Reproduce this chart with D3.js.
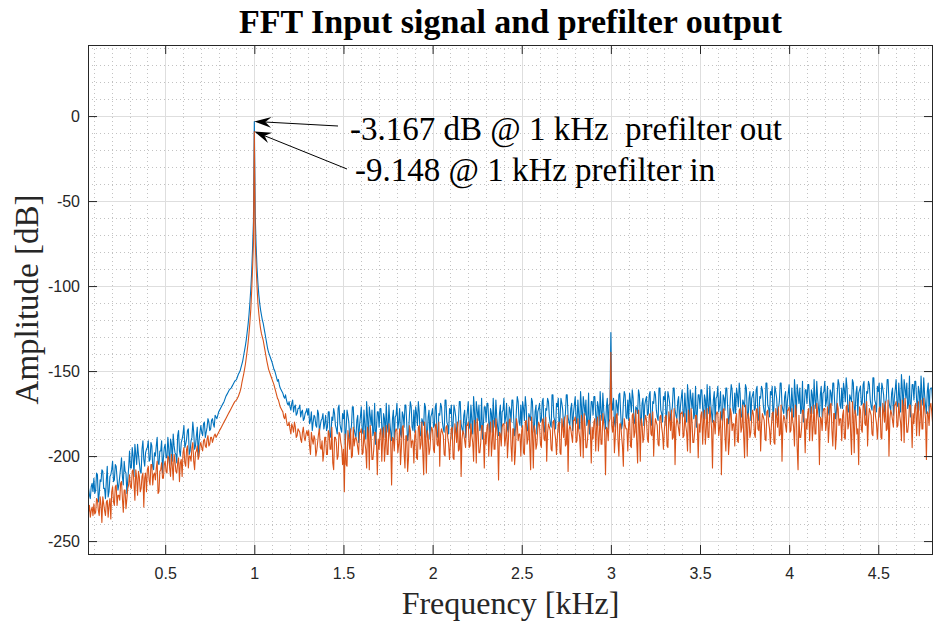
<!DOCTYPE html>
<html>
<head>
<meta charset="utf-8">
<script src="https://cdn.jsdelivr.net/npm/d3@7"></script>
<style>
  body { margin: 0; background: #fff; }
  svg { display: block; }
</style>
</head>
<body>
<svg id="chart" width="934" height="627"></svg>
<script>
// FFT bins: first bin centre and bin spacing, in kHz
const binStart = 0.07;
const binWidth = 0.005;

// Prefilter output spectrum [dB], one value per bin from 0.070 to 4.805 kHz
const outputDb = [
  -219, -223, -225, -218, -216, -221,
  -213, -222, -220, -210, -211, -227, -222, -214, -215, -208, -209, -219, -219, -225, -214, -206, -224, -221, -212, -211,
  -208, -203, -215, -214, -205, -206, -213, -220, -217, -212, -207, -201, -212, -217, -203, -209, -210, -222, -214, -207,
  -197, -207, -207, -195, -200, -212, -193, -199, -205, -193, -199, -204, -209, -210, -196, -191, -202, -206, -198, -196,
  -195, -191, -203, -202, -192, -194, -206, -208, -198, -200, -194, -189, -204, -205, -197, -197, -191, -210, -201, -195,
  -193, -201, -201, -189, -196, -206, -190, -193, -203, -187, -194, -198, -199, -204, -188, -185, -197, -200, -192, -190,
  -187, -182, -195, -193, -190, -185, -184, -199, -197, -191, -189, -180, -186, -196, -194, -188, -183, -200, -191, -186,
  -182, -186, -188, -181, -180, -189, -186, -183, -178, -180, -185, -184, -179, -178, -181, -183, -176, -177, -178, -176,
  -174, -173, -172, -171, -170, -169, -168, -166.5, -165, -164, -163, -162, -161, -160.5, -160, -159, -158, -157, -156, -155.5,
  -155, -153.5, -152, -151, -150, -148, -146, -144, -141, -138, -135, -131.5, -127, -122.5, -117, -110, -102, -92, -78, -62,
  -3.167, -58, -76, -89, -98, -105, -110, -114, -117, -120, -122, -125, -128, -131, -134, -137, -139, -140.5, -142, -143.5,
  -145, -147, -149, -150, -152, -154, -156, -155, -158, -160, -161, -162, -163, -165, -166, -164, -167, -169, -170, -168,
  -171, -173, -169, -167, -174, -171, -170, -176, -175, -172, -172, -170, -177, -174, -173, -179, -178, -175, -174, -172,
  -176, -172, -181, -179, -174, -185, -180, -176, -177, -182, -183, -173, -175, -186, -182, -179, -178, -175, -184, -181,
  -176, -185, -183, -174, -174, -189, -188, -177, -179, -172, -175, -182, -184, -187, -172, -170, -181, -184, -186, -175,
  -178, -173, -193, -184, -173, -176, -180, -190, -186, -182, -171, -171, -184, -187, -189, -179, -176, -192, -182, -177,
  -171, -185, -187, -173, -182, -190, -168, -177, -190, -171, -176, -182, -173, -188, -185, -169, -193, -184, -174, -174,
  -183, -172, -172, -183, -189, -175, -178, -189, -169, -181, -186, -170, -180, -186, -191, -178, -173, -191, -177, -176,
  -169, -184, -180, -172, -187, -189, -174, -176, -183, -170, -170, -181, -191, -187, -176, -168, -171, -183, -185, -173,
  -186, -171, -175, -182, -168, -174, -188, -188, -178, -180, -182, -169, -171, -185, -189, -177, -173, -190, -177, -175,
  -172, -183, -182, -171, -169, -188, -189, -175, -176, -169, -171, -180, -184, -186, -167, -167, -180, -182, -187, -172,
  -175, -170, -190, -181, -170, -173, -177, -187, -183, -179, -168, -168, -181, -184, -186, -176, -173, -189, -179, -174,
  -168, -182, -184, -170, -179, -187, -165, -174, -187, -168, -173, -179, -170, -185, -182, -166, -190, -181, -171, -171,
  -180, -169, -169, -180, -186, -172, -175, -186, -166, -178, -183, -167, -177, -183, -188, -175, -170, -188, -174, -173,
  -166, -181, -177, -169, -184, -186, -171, -173, -180, -167, -167, -178, -188, -184, -173, -165, -168, -180, -182, -170,
  -183, -168, -172, -179, -165, -171, -185, -185, -175, -177, -179, -166, -168, -182, -186, -174, -170, -187, -174, -172,
  -169, -180, -179, -168, -166, -185, -186, -172, -173, -166, -168, -177, -181, -183, -164, -164, -177, -179, -184, -169,
  -171, -166, -186, -177, -166, -169, -173, -183, -179, -175, -164, -164, -177, -180, -182, -172, -169, -185, -175, -170,
  -165, -179, -181, -167, -176, -184, -162, -171, -184, -165, -170, -176, -167, -182, -179, -163, -187, -178, -168, -168,
  -176, -165, -165, -176, -182, -168, -171, -182, -162, -174, -179, -163, -173, -179, -184, -171, -166, -184, -170, -169,
  -127.3, -168, -173, -166, -180, -183, -167, -170, -176, -164, -163, -175, -184, -181, -169, -162, -164, -177, -178, -167,
  -179, -163, -168, -174, -161, -166, -181, -180, -171, -172, -175, -161, -164, -177, -182, -169, -166, -182, -170, -167,
  -165, -176, -175, -164, -162, -181, -182, -168, -169, -162, -164, -173, -177, -179, -160, -160, -173, -175, -180, -165,
  -167, -162, -182, -173, -162, -165, -169, -179, -175, -171, -160, -160, -173, -176, -178, -168, -165, -181, -171, -166,
  -161, -175, -177, -163, -172, -180, -158, -167, -180, -161, -166, -172, -163, -178, -175, -159, -183, -174, -164, -164,
  -172, -161, -161, -172, -178, -164, -167, -178, -158, -170, -175, -159, -169, -175, -180, -167, -162, -180, -166, -165,
  -159, -174, -170, -162, -177, -179, -164, -166, -173, -160, -160, -171, -181, -177, -166, -158, -161, -173, -175, -163,
  -175, -160, -164, -171, -157, -163, -177, -177, -167, -169, -171, -158, -160, -174, -178, -166, -162, -179, -166, -164,
  -162, -173, -172, -161, -159, -178, -179, -165, -166, -159, -161, -170, -174, -176, -157, -157, -170, -172, -177, -162,
  -164, -159, -179, -170, -159, -162, -166, -176, -172, -168, -157, -157, -170, -173, -175, -165, -162, -178, -168, -163,
  -158, -172, -174, -160, -169, -177, -155, -164, -177, -158, -163, -169, -160, -175, -172, -156, -180, -171, -161, -161,
  -169, -158, -158, -169, -175, -161, -164, -175, -155, -167, -172, -156, -166, -172, -177, -164, -159, -177, -163, -162,
  -156, -171, -167, -159, -174, -176, -161, -163, -170, -157, -157, -168, -178, -174, -163, -155, -158, -170, -172, -160,
  -172, -157, -161, -168, -154, -160, -174, -174, -164, -166, -168, -155, -157, -171, -175, -163, -159, -176, -163, -161,
  -159, -170, -169, -158, -156, -175, -176, -162, -163, -156, -158, -167, -171, -173, -154, -154, -167, -169, -174, -159,
  -162, -157, -177, -168, -157, -160, -164, -174, -170, -166, -155, -155, -168, -171, -173, -163, -160, -176, -166, -161,
  -155, -169, -171, -157, -166, -174, -152, -161, -174, -155, -160, -166, -157, -172, -169, -153, -177, -168, -158, -158,
  -167, -156, -156, -167, -173, -159, -162, -173, -153, -165, -170, -154, -164, -170, -175, -162, -157, -175, -161, -160,
  -160, -168
];

// Prefilter input spectrum [dB], same bins
const inputDb = [
  -233, -229, -236, -232, -230, -235,
  -228, -234, -233, -225, -226, -232, -235, -224, -229, -239, -224, -228, -232, -235, -227, -226, -236, -229, -225, -237,
  -221, -218, -227, -229, -218, -217, -229, -223, -223, -226, -216, -215, -225, -233, -220, -220, -231, -225, -219, -217,
  -211, -218, -219, -209, -208, -216, -226, -208, -213, -223, -209, -212, -221, -219, -212, -210, -230, -213, -210, -221,
  -208, -206, -214, -217, -205, -205, -217, -211, -210, -214, -207, -203, -222, -221, -209, -208, -204, -213, -213, -205,
  -203, -209, -210, -200, -201, -207, -212, -199, -206, -214, -199, -203, -209, -210, -204, -201, -215, -204, -202, -212,
  -198, -195, -204, -206, -196, -194, -207, -200, -200, -203, -195, -192, -203, -208, -198, -197, -194, -202, -200, -194,
  -192, -195, -197, -191, -190, -194, -195, -190, -188, -194, -193, -189, -189, -192, -190, -188, -187, -189, -188, -187,
  -186, -185, -184, -183, -182, -181, -180, -179, -178, -177, -176, -175, -174, -173, -172, -171, -170, -169, -168, -167.5,
  -167, -166, -165, -163.5, -162, -160, -157, -154.5, -152, -149, -146, -142, -138, -133.5, -128, -121.5, -114, -103, -90, -75,
  -9.148, -72, -88, -100, -110, -116, -121, -125, -128, -130, -132, -135, -138, -141, -144, -146.5, -149, -150.5, -152, -153.5,
  -155, -156.5, -158, -160, -162, -164, -166, -167, -169, -171, -172, -173, -174, -177, -178, -175, -179, -182, -182, -180,
  -184, -187, -181, -183, -186, -180, -183, -189, -188, -184, -185, -186, -190, -192, -186, -183, -189, -191, -187, -185,
  -188, -185, -194, -199, -186, -190, -193, -188, -190, -200, -197, -192, -187, -184, -195, -196, -191, -203, -198, -189,
  -189, -199, -199, -185, -187, -196, -196, -183, -204, -208, -189, -189, -192, -202, -200, -186, -187, -192, -195, -205,
  -196, -221, -187, -205, -206, -185, -190, -196, -184, -201, -200, -183, -194, -190, -189, -191, -195, -199, -186, -186,
  -184, -199, -198, -185, -192, -196, -207, -183, -187, -208, -182, -189, -202, -202, -196, -186, -186, -192, -211, -190,
  -196, -186, -184, -203, -189, -183, -203, -194, -182, -199, -199, -181, -187, -192, -217, -189, -190, -197, -186, -184,
  -185, -198, -193, -184, -205, -195, -183, -182, -198, -207, -188, -188, -209, -201, -182, -185, -195, -191, -191, -204,
  -188, -185, -201, -202, -183, -182, -196, -193, -180, -198, -211, -180, -189, -210, -185, -188, -199, -196, -187, -183,
  -185, -196, -198, -182, -181, -193, -194, -180, -206, -187, -184, -186, -188, -199, -200, -183, -182, -189, -193, -202,
  -192, -184, -183, -201, -202, -181, -186, -192, -180, -197, -196, -179, -212, -190, -185, -187, -191, -195, -182, -182,
  -180, -195, -194, -181, -188, -192, -203, -179, -183, -204, -178, -185, -198, -198, -192, -182, -182, -188, -207, -186,
  -193, -183, -181, -200, -186, -180, -200, -191, -179, -196, -196, -178, -184, -190, -214, -186, -187, -194, -183, -181,
  -181, -194, -189, -180, -201, -191, -179, -178, -194, -203, -184, -184, -205, -197, -178, -181, -191, -187, -187, -200,
  -185, -182, -198, -199, -180, -179, -193, -190, -177, -195, -208, -177, -186, -207, -182, -185, -196, -193, -184, -180,
  -182, -193, -195, -179, -178, -190, -191, -177, -203, -186, -181, -183, -185, -196, -197, -180, -179, -186, -190, -199,
  -189, -181, -180, -198, -199, -178, -183, -189, -177, -194, -193, -176, -209, -185, -182, -184, -188, -192, -179, -179,
  -177, -192, -191, -178, -185, -189, -200, -176, -180, -201, -175, -182, -195, -195, -189, -179, -179, -185, -204, -183,
  -190, -180, -178, -197, -183, -177, -197, -188, -176, -193, -193, -175, -181, -186, -211, -183, -184, -191, -180, -178,
  -139, -182, -186, -177, -198, -188, -176, -175, -191, -200, -181, -181, -188, -194, -206, -178, -182, -184, -184, -197,
  -181, -178, -194, -195, -176, -175, -189, -186, -173, -191, -204, -173, -182, -203, -178, -181, -192, -189, -180, -176,
  -179, -190, -192, -176, -175, -187, -188, -174, -200, -185, -178, -180, -182, -193, -194, -177, -176, -183, -187, -196,
  -185, -177, -176, -194, -195, -174, -179, -185, -173, -190, -189, -172, -205, -183, -178, -180, -184, -188, -175, -175,
  -174, -189, -188, -175, -182, -186, -197, -173, -177, -198, -172, -179, -192, -192, -186, -176, -176, -182, -201, -181,
  -186, -176, -174, -193, -179, -173, -193, -184, -172, -189, -189, -171, -177, -184, -207, -179, -180, -187, -176, -174,
  -175, -188, -183, -174, -211, -185, -173, -172, -188, -197, -178, -178, -199, -191, -172, -175, -185, -181, -181, -194,
  -178, -175, -191, -192, -173, -172, -186, -183, -170, -188, -201, -170, -179, -200, -175, -178, -189, -186, -177, -173,
  -176, -187, -189, -173, -172, -184, -185, -171, -197, -182, -175, -177, -179, -190, -191, -174, -173, -180, -184, -193,
  -183, -175, -174, -192, -193, -172, -177, -183, -171, -188, -187, -170, -203, -181, -176, -178, -182, -186, -173, -173,
  -171, -186, -185, -172, -179, -183, -194, -170, -174, -195, -208, -176, -189, -189, -183, -173, -173, -179, -198, -178,
  -184, -174, -172, -191, -177, -171, -191, -182, -170, -187, -187, -169, -175, -180, -205, -177, -178, -185, -174, -172,
  -172, -185, -180, -171, -192, -182, -170, -169, -185, -194, -175, -175, -196, -188, -169, -172, -182, -178, -178, -191,
  -176, -173, -189, -190, -171, -170, -184, -181, -168, -186, -199, -168, -177, -198, -173, -176, -187, -184, -205, -171,
  -173, -184, -186, -170, -169, -181, -182, -168, -194, -179, -172, -174, -176, -187, -188, -171, -170, -177, -181, -190,
  -180, -172, -171, -189, -190, -169, -174, -180, -168, -185, -184, -167, -200, -178, -173, -175, -179, -183, -170, -170,
  -168, -183, -182, -169, -176, -180, -191, -167, -171, -192, -166, -173, -186, -186, -180, -170, -170, -176, -195, -175,
  -181, -171, -169, -188, -174, -168, -188, -179, -167, -184, -184, -166, -172, -178, -202, -174, -175, -182, -171, -169,
  -174, -181
];

const xTicks = [0.5, 1, 1.5, 2, 2.5, 3, 3.5, 4, 4.5];
const yTicks = [-250, -200, -150, -100, -50, 0];
const xMinor = [0.1, 0.2, 0.3, 0.4, 0.6, 0.7, 0.8, 0.9, 1.1, 1.2, 1.3, 1.4, 1.6, 1.7, 1.8, 1.9,
                2.1, 2.2, 2.3, 2.4, 2.6, 2.7, 2.8, 2.9, 3.1, 3.2, 3.3, 3.4, 3.6, 3.7, 3.8, 3.9,
                4.1, 4.2, 4.3, 4.4, 4.6, 4.7, 4.8];
const yMinor = [-240, -230, -220, -210, -190, -180, -170, -160, -140, -130, -120, -110,
                -90, -80, -70, -60, -40, -30, -20, -10, 10, 20, 30, 40];
const xLimits = [0.067, 4.807];
const yLimits = [-257.6, 41.8];
const toneKHz = 1;

const W = 934, H = 627;
const margin = { top: 45, right: 1, bottom: 73, left: 88 };
const iw = W - margin.left - margin.right;
const ih = H - margin.top - margin.bottom;

const colors = { output: "#0072BD", input: "#D95319", axis: "#262626" };
const sans = "'Liberation Sans', Arial, Helvetica, sans-serif";
const serif = "'Liberation Serif', 'Times New Roman', Times, serif";

const svg = d3.select("#chart");
const g = svg.append("g").attr("transform", `translate(${margin.left},${margin.top})`);

const x = d3.scaleLinear().domain(xLimits).range([0, iw]);
const y = d3.scaleLinear().domain(yLimits).range([ih, 0]);

// minor grid (dotted)
const minor = g.append("g").attr("stroke", "#c2c2c2").attr("stroke-width", 1)
  .attr("stroke-dasharray", "1,3");
minor.selectAll(".vx").data(xMinor).join("line")
  .attr("x1", d => Math.round(x(d)) + 0.5).attr("x2", d => Math.round(x(d)) + 0.5)
  .attr("y1", 0).attr("y2", ih);
minor.selectAll(".hy").data(yMinor).join("line")
  .attr("y1", d => Math.round(y(d)) + 0.5).attr("y2", d => Math.round(y(d)) + 0.5)
  .attr("x1", 0).attr("x2", iw);

// major grid
const major = g.append("g").attr("stroke", "#dedede").attr("stroke-width", 1);
major.selectAll(".vx").data(xTicks).join("line")
  .attr("x1", d => Math.round(x(d)) + 0.5).attr("x2", d => Math.round(x(d)) + 0.5)
  .attr("y1", 0).attr("y2", ih);
major.selectAll(".hy").data(yTicks).join("line")
  .attr("y1", d => Math.round(y(d)) + 0.5).attr("y2", d => Math.round(y(d)) + 0.5)
  .attr("x1", 0).attr("x2", iw);

// spectra
svg.append("defs").append("clipPath").attr("id", "plotClip")
  .append("rect").attr("width", iw).attr("height", ih);

const freqOf = i => binStart + i * binWidth;
const line = d3.line().x((d, i) => x(freqOf(i))).y(d => y(d));

const plot = g.append("g").attr("clip-path", "url(#plotClip)");
plot.append("path").datum(outputDb).attr("d", line)
  .attr("fill", "none").attr("stroke", colors.output).attr("stroke-width", 1.1)
  .attr("stroke-linejoin", "round");
plot.append("path").datum(inputDb).attr("d", line)
  .attr("fill", "none").attr("stroke", colors.input).attr("stroke-width", 1.1)
  .attr("stroke-linejoin", "round");

// axes with inward ticks on all four sides
const fmt = d => String(d);
const styleAxis = sel => {
  sel.select(".domain").remove();
  sel.selectAll(".tick line").attr("stroke", colors.axis);
  sel.selectAll(".tick text").attr("fill", colors.axis)
    .style("font-family", sans).style("font-size", "16px");
};
g.append("g").attr("transform", `translate(0,${ih})`)
  .call(d3.axisBottom(x).tickValues(xTicks).tickFormat(fmt).tickSize(-9).tickPadding(14))
  .call(styleAxis);
g.append("g")
  .call(d3.axisTop(x).tickValues(xTicks).tickFormat("").tickSize(-9))
  .call(styleAxis);
g.append("g")
  .call(d3.axisLeft(y).tickValues(yTicks).tickFormat(fmt).tickSize(-9).tickPadding(8))
  .call(styleAxis);
g.append("g").attr("transform", `translate(${iw},0)`)
  .call(d3.axisRight(y).tickValues(yTicks).tickFormat("").tickSize(-9))
  .call(styleAxis);

// axes box
g.append("rect").attr("x", 0.5).attr("y", 0.5).attr("width", iw - 1).attr("height", ih)
  .attr("fill", "none").attr("stroke", colors.axis).attr("stroke-width", 1);

// title and axis labels
svg.append("text").attr("x", margin.left + iw / 2).attr("y", 33)
  .attr("text-anchor", "middle").style("font-family", serif)
  .style("font-size", "34px").style("font-weight", "bold").attr("fill", "#000")
  .text("FFT Input signal and prefilter output");
svg.append("text").attr("x", margin.left + iw / 2).attr("y", 614)
  .attr("text-anchor", "middle").style("font-family", serif)
  .style("font-size", "32px").attr("fill", colors.axis)
  .text("Frequency [kHz]");
svg.append("text").attr("transform", `translate(38,${margin.top + ih / 2}) rotate(-90)`)
  .attr("text-anchor", "middle").style("font-family", serif)
  .style("font-size", "33px").attr("fill", colors.axis)
  .text("Amplitude [dB]");

// peak annotations
const toneIdx = Math.round((toneKHz - binStart) / binWidth);
const notes = [
  { value: outputDb[toneIdx], text: `${outputDb[toneIdx].toFixed(3)} dB @ 1 kHz  prefilter out`,
    tx: 350, ty: 140, ax: 338, ay: 126 },
  { value: inputDb[toneIdx], text: `${inputDb[toneIdx].toFixed(3)} @ 1 kHz prefilter in`,
    tx: 355, ty: 181, ax: 347, ay: 169 }
];

function arrow(sel, x0, y0, x1, y1) {
  const dx = x1 - x0, dy = y1 - y0, len = Math.hypot(dx, dy);
  const ux = dx / len, uy = dy / len, nx = -uy, ny = ux;
  const L = 17, Wd = 5.5, notch = 11;
  const bx = x1 - ux * L, by = y1 - uy * L;
  const mx = x1 - ux * notch, my = y1 - uy * notch;
  sel.append("line").attr("x1", x0).attr("y1", y0).attr("x2", mx).attr("y2", my)
    .attr("stroke", "#000").attr("stroke-width", 1);
  sel.append("path")
    .attr("d", `M${x1},${y1}L${bx + nx * Wd},${by + ny * Wd}L${mx},${my}L${bx - nx * Wd},${by - ny * Wd}Z`)
    .attr("fill", "#000");
}

const ann = svg.append("g");
notes.forEach(n => {
  arrow(ann, n.ax, n.ay, margin.left + x(toneKHz), margin.top + y(n.value));
  ann.append("text").attr("x", n.tx).attr("y", n.ty)
    .style("font-family", serif).style("font-size", "33px").style("white-space", "pre")
    .attr("fill", "#000").text(n.text);
});
</script>
</body>
</html>
